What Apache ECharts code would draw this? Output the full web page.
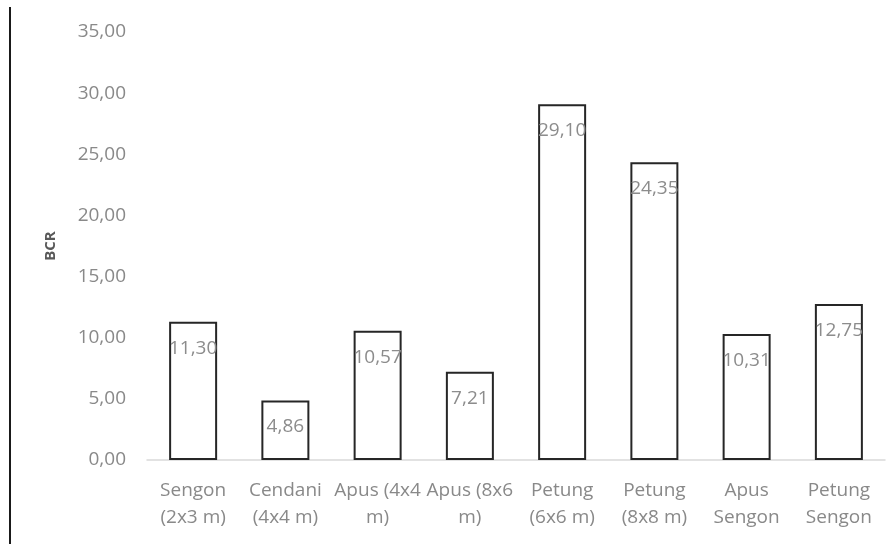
<!DOCTYPE html>
<html>
<head>
<meta charset="utf-8">
<script src="https://cdn.jsdelivr.net/npm/echarts@6/dist/echarts.min.js"></script>
<style>html,body{margin:0;padding:0;background:#fff;}#c{width:896px;height:544px;}</style>
</head>
<body>
<div id="c"></div>
<script>
const categories = ["Sengon\n(2x3 m)", "Cendani\n(4x4 m)", "Apus (4x4\nm)", "Apus (8x6\nm)", "Petung\n(6x6 m)", "Petung\n(8x8 m)", "Apus\nSengon", "Petung\nSengon"];
const bcrValues = [11.30, 4.86, 10.57, 7.21, 29.10, 24.35, 10.31, 12.75];
const yAxisTitle = "BCR";

const fmt = v => Number(v).toFixed(2).replace('.', ',');
const chart = echarts.init(document.getElementById('c'));
chart.setOption({
  animation: false,
  grid: { left: 147, right: 11, top: 32, bottom: 84 },
  graphic: [{
    type: 'line', shape: { x1: 10, y1: 7, x2: 10, y2: 544 },
    style: { stroke: '#1a1a1a', lineWidth: 2 }
  }],
  xAxis: {
    type: 'category', data: categories,
    axisLine: { lineStyle: { color: '#d9d9d9', width: 1.5 } },
    axisTick: { show: false },
    axisLabel: { interval: 0, color: '#898989', fontFamily: 'Open Sans', fontSize: 19, lineHeight: 27, margin: 17 }
  },
  yAxis: {
    type: 'value', min: 0, max: 35, interval: 5,
    name: yAxisTitle, nameLocation: 'middle', nameRotate: 90, nameGap: 89,
    nameTextStyle: { color: '#595959', fontWeight: 'bold', fontSize: 15, fontFamily: 'Open Sans' },
    axisLine: { show: false }, axisTick: { show: false }, splitLine: { show: false },
    axisLabel: { formatter: fmt, color: '#898989', fontFamily: 'Open Sans', fontSize: 19, margin: 21 }
  },
  series: [{
    type: 'bar', data: bcrValues, barWidth: 48,
    itemStyle: { color: '#ffffff', borderColor: '#262626', borderWidth: 2 },
    label: { show: true, position: 'insideTop', distance: 17, formatter: p => fmt(p.value),
      color: '#8c8c8c', fontFamily: 'Open Sans', fontSize: 19 }
  }]
});
</script>
</body>
</html>
